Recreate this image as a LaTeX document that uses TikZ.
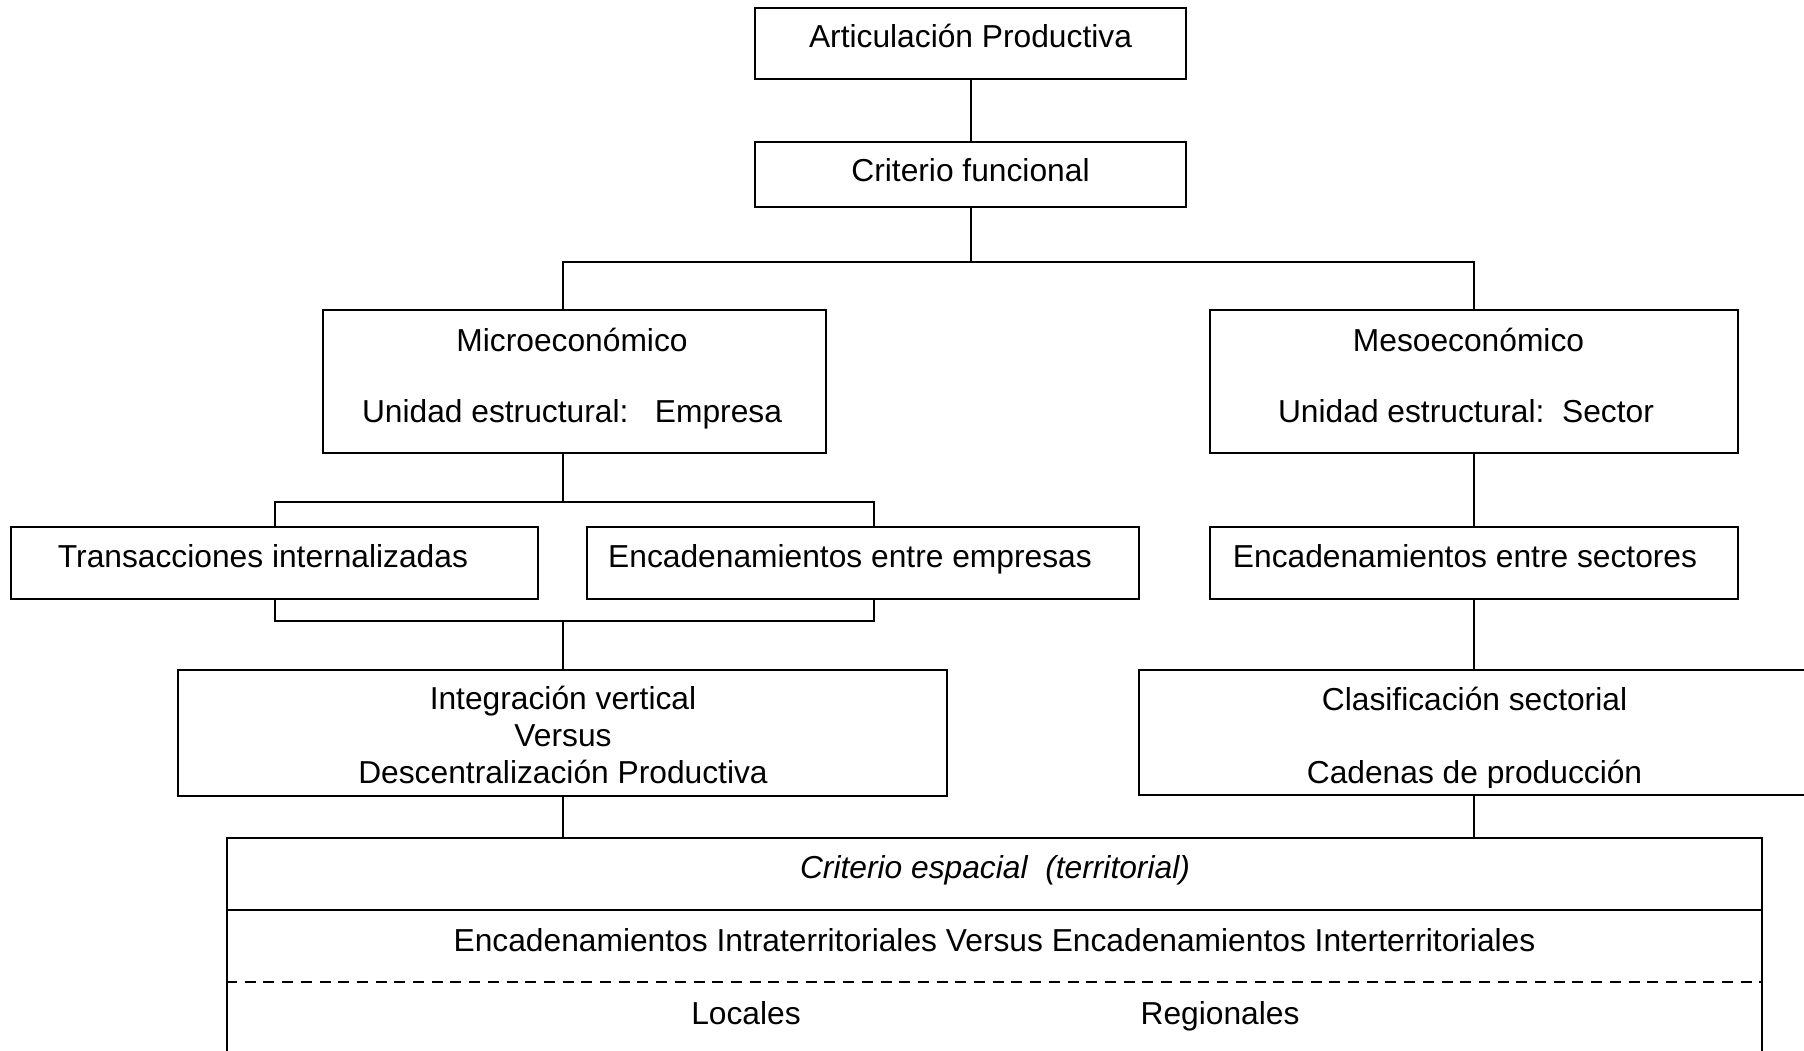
\documentclass[tikz,border=0pt]{standalone}
\usepackage{fontspec}
\setmainfont{Liberation Sans}
\begin{document}
\begin{tikzpicture}[x=1pt,y=-1pt,
  box/.style={draw, line width=2pt, inner sep=0pt, rectangle},
  conn/.style={line width=2pt},
  lbl/.style={inner sep=0pt, anchor=base, font=\fontsize{31.75}{38}\selectfont}]
\useasboundingbox (0,0) rectangle (1804,1050);
\clip (0,0) rectangle (1804,1050);
\fill[white] (0,0) rectangle (1804,1050);

% boxes
\node[box, minimum width=431pt, minimum height=71pt]  (art)    at (970.5,43.5) {};
\node[box, minimum width=431pt, minimum height=65pt]  (crit)   at (970.5,174.5) {};
\node[box, minimum width=503pt, minimum height=143pt] (micro)  at (574.5,381.5) {};
\node[box, minimum width=528pt, minimum height=143pt] (meso)   at (1474,381.5) {};
\node[box, minimum width=527pt, minimum height=72pt]  (trans)  at (274.5,563) {};
\node[box, minimum width=552pt, minimum height=72pt]  (encemp) at (863,563) {};
\node[box, minimum width=528pt, minimum height=72pt]  (encsec) at (1474,563) {};
\node[box, minimum width=769pt, minimum height=126pt] (integ)  at (562.5,733) {};
\node[box, minimum width=691pt, minimum height=125pt] (clas)   at (1484.5,732.5) {};
\node[box, minimum width=1535pt, minimum height=242pt] (terr)  at (994.5,959) {};

% helper points for the connector lines
\coordinate (fork) at (970.5,262);
\coordinate (btl) at (275,502);
\coordinate (btr) at (874,502);
\coordinate (bbl) at (275,621);
\coordinate (bbr) at (874,621);
\coordinate (row1) at (0,910);
\coordinate (row2) at (0,982);

% connectors
\draw[conn] (art.south) -- (crit.north);
\draw[conn] (crit.south) -- (fork);
\draw[conn] (integ.north |- micro.north) -- (integ.north |- fork) -- (meso.north |- fork) -- (meso.north);
\draw[conn] (integ.north |- micro.south) -- (integ.north |- btl);
\draw[conn] (trans.north -| btl) -- (btl) -- (btr) -- (encemp.north -| btr);
\draw[conn] (trans.south -| bbl) -- (bbl) -- (bbr) -- (encemp.south -| bbr);
\draw[conn] (integ.north |- bbl) -- (integ.north);
\draw[conn] (meso.south) -- (encsec.north);
\draw[conn] (encsec.south) -- (encsec.south |- clas.north);
\draw[conn] (integ.south) -- (integ.south |- terr.north);
\draw[conn] (encsec.south |- clas.south) -- (encsec.south |- terr.north);

% rows of the territorial box
\draw[conn] (terr.west |- row1) -- (terr.east |- row1);
\draw[line width=2.5pt, dash pattern=on 11pt off 7.7pt] (terr.west |- row2) -- (terr.east |- row2);

% labels
\node[lbl] (tart)  at (970.5,47) {Articulación Productiva};
\node[lbl] (tcrit) at (970.5,181.5) {Criterio funcional};
\node[lbl] (tmi1)  at (572,351) {Microeconómico};
\node[lbl] (tmi2)  at (572,422) {Unidad estructural:\ \ \ Empresa};
\node[lbl] (tme1)  at (1468.5,351) {Mesoeconómico};
\node[lbl] (tme2)  at (1466,422.5) {Unidad estructural:\ \ Sector};
\node[lbl] (ttr)   at (263,567) {Transacciones internalizadas};
\node[lbl] (tee)   at (850,567) {Encadenamientos entre empresas};
\node[lbl] (tes)   at (1465,567) {Encadenamientos entre sectores};
\node[lbl] (tin1)  at (563,709) {Integración vertical};
\node[lbl] (tin2)  at (563,746.5) {Versus};
\node[lbl] (tin3)  at (563,783) {Descentralización Productiva};
\node[lbl] (tcl1)  at (1474.5,710) {Clasificación sectorial};
\begin{scope}
  \clip (clas.north west) rectangle (1804,787);
  \node[lbl] (tcl2) at (1474.5,783) {Cadenas de producción};
\end{scope}
\node[lbl, font=\fontsize{31.75}{38}\selectfont\itshape] (tte1) at (995,878) {Criterio espacial\ \ (territorial)};
\node[lbl] (tte2)  at (994.5,951.5) {Encadenamientos Intraterritoriales Versus Encadenamientos Interterritoriales};
\node[lbl] (tloc)  at (746,1024) {Locales};
\node[lbl] (treg)  at (1220,1024) {Regionales};
\end{tikzpicture}
\end{document}
